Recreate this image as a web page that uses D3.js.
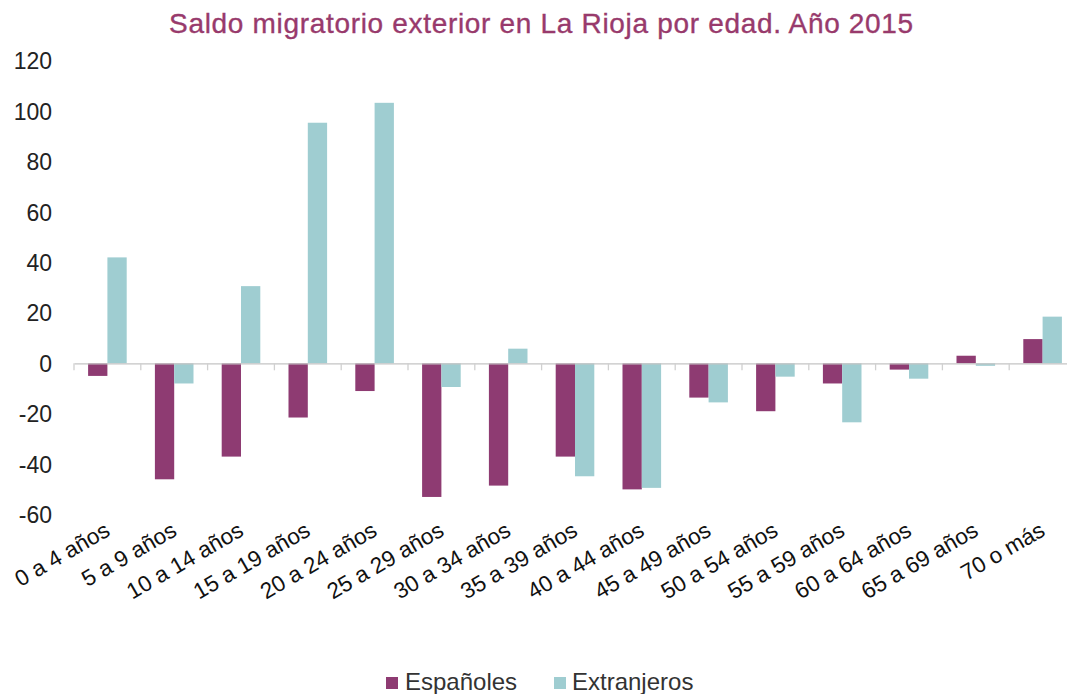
<!DOCTYPE html>
<html>
<head>
<meta charset="utf-8">
<script src="https://cdn.jsdelivr.net/npm/d3@7"></script>
<style>
  html, body { margin: 0; padding: 0; background: #fff; }
  svg { display: block; font-family: "Liberation Sans", Arial, sans-serif; }
</style>
</head>
<body>
<svg id="chart" width="1067" height="694"></svg>
<script>
// Saldo migratorio exterior por grupo de edad, La Rioja 2015
const categories = ["0 a 4 años", "5 a 9 años", "10 a 14 años", "15 a 19 años", "20 a 24 años",
  "25 a 29 años", "30 a 34 años", "35 a 39 años", "40 a 44 años", "45 a 49 años",
  "50 a 54 años", "55 a 59 años", "60 a 64 años", "65 a 69 años", "70 o más"];
const espanoles   = [-5, -46, -37, -21.5, -11, -53, -48.5, -37, -50, -13.6, -19, -8, -2.5, 3, 9.6];
const extranjeros = [42, -8, 30.6, 95.4, 103.3, -9.4, 5.8, -44.8, -49.4, -15.5, -5.3, -23.4, -6.1, -1, 18.5];
const seriesNames = ["Españoles", "Extranjeros"];
const seriesColors = ["#8e3b72", "#9fcdd1"];
const yTicks = [-60, -40, -20, 0, 20, 40, 60, 80, 100, 120];

const svg = d3.select("#chart");

const x = d3.scaleBand().domain(categories).range([74, 74 + 15 * 66.8]).padding(0);
const inner = d3.scaleBand().domain(seriesNames)
  .range([x.bandwidth() / 2 - 19.3, x.bandwidth() / 2 + 19.3]).padding(0);
const y = d3.scaleLinear().domain([-60, 120]).range([514.6, 60.7]);
const color = d3.scaleOrdinal().domain(seriesNames).range(seriesColors);

// Title
svg.append("text")
  .attr("x", 541.5).attr("y", 33)
  .attr("text-anchor", "middle")
  .attr("fill", "#983a6c")
  .style("font-size", "28px")
  .style("letter-spacing", "0.68px")
  .style("stroke", "#983a6c")
  .style("stroke-width", "0.35px")
  .text("Saldo migratorio exterior en La Rioja por edad. Año 2015");

// Y axis labels (no line); plain hyphen for negatives
const yAxis = d3.axisLeft(y).tickValues(yTicks).tickSize(0).tickPadding(0).tickFormat(d => String(d));
const yg = svg.append("g").attr("transform", "translate(52,0)").call(yAxis);
yg.select(".domain").remove();
yg.selectAll("text")
  .attr("fill", "#222")
  .style("font-size", "23px")
  .style("font-family", "'Liberation Sans', Arial, sans-serif")
  .attr("dy", "0.35em");

// Bars
const rows = categories.map((c, i) => ({ cat: c, vals: [espanoles[i], extranjeros[i]] }));
const groups = svg.append("g").selectAll("g").data(rows).join("g")
  .attr("transform", d => `translate(${x(d.cat)},0)`);
groups.selectAll("rect")
  .data(d => d.vals.map((v, k) => ({ key: seriesNames[k], v })))
  .join("rect")
  .attr("x", d => inner(d.key))
  .attr("width", inner.bandwidth())
  .attr("y", d => y(Math.max(0, d.v)))
  .attr("height", d => Math.abs(y(d.v) - y(0)))
  .attr("fill", d => color(d.key));

// Zero line with category separators
const xZero = d3.axisBottom(x).tickValues([]).tickSizeOuter(0);
const zg = svg.append("g").attr("transform", `translate(0,${y(0)})`).call(xZero);
zg.select(".domain").attr("stroke", "#c4c4c4").attr("stroke-width", 1.3);
zg.selectAll(".sep")
  .data(d3.range(categories.length))
  .join("line")
  .attr("class", "sep")
  .attr("x1", i => x.range()[0] + i * x.step())
  .attr("x2", i => x.range()[0] + i * x.step())
  .attr("y1", 0).attr("y2", 7)
  .attr("stroke", "#d0d0d0").attr("stroke-width", 1.3);

// Category labels, rotated, anchored at the bottom of the plot
const xLab = d3.axisBottom(x).tickSize(0).tickPadding(0);
const xg = svg.append("g").attr("transform", `translate(0,${y(-60)})`).call(xLab);
xg.select(".domain").remove();
xg.selectAll("text")
  .attr("fill", "#111")
  .style("font-size", "22.5px")
  .style("font-family", "'Liberation Sans', Arial, sans-serif")
  .attr("text-anchor", "end")
  .attr("dy", null)
  .attr("y", 0)
  .attr("transform", "translate(4,20) rotate(-30)");

// Legend
const legendItems = [
  { name: seriesNames[0], sx: 386, tx: 405 },
  { name: seriesNames[1], sx: 554, tx: 572 }
];
const lg = svg.append("g");
legendItems.forEach(it => {
  lg.append("rect").attr("x", it.sx).attr("y", 677).attr("width", 12).attr("height", 12)
    .attr("fill", color(it.name));
  lg.append("text").attr("x", it.tx).attr("y", 690)
    .attr("fill", "#333")
    .style("font-size", "24px")
    .text(it.name);
});
</script>
</body>
</html>
